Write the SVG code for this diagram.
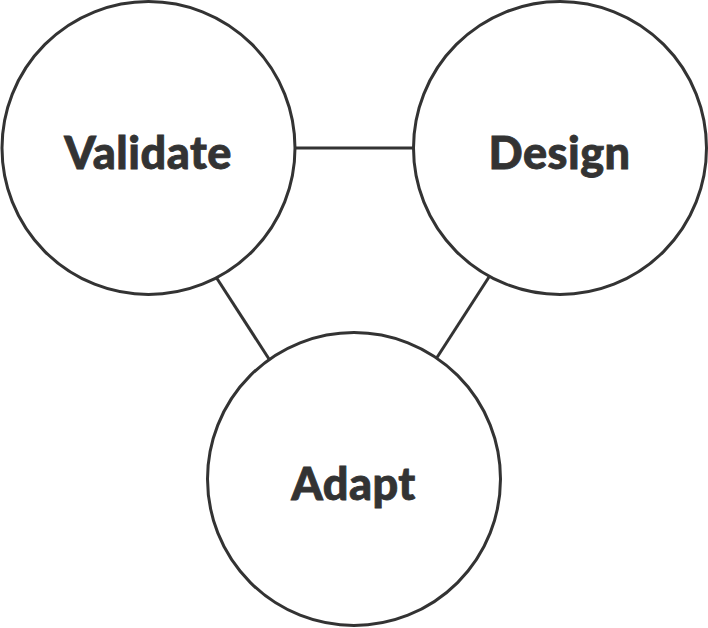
<svg xmlns="http://www.w3.org/2000/svg" width="708" height="628" viewBox="0 0 708 628">
<style>
.n{fill:#fff;stroke:#333;stroke-width:3}
.c{stroke:#333;stroke-width:3;fill:none}
.t{font-family:Lato,"Liberation Sans",sans-serif;font-weight:900;font-size:45px;fill:#333;stroke:#333;stroke-width:0.8;letter-spacing:0.5px;text-anchor:middle}
</style>
<rect width="708" height="628" fill="#fff"/>
<g id="connectors">
<line class="c" x1="295" y1="148" x2="413" y2="148"/>
<line class="c" x1="216" y1="277" x2="269" y2="359"/>
<line class="c" x1="489" y1="277" x2="436" y2="359"/>
</g>
<g id="validate"><circle class="n" cx="148.5" cy="148" r="146.5"/><text class="t" x="148" y="169">Validate</text></g>
<g id="design"><circle class="n" cx="560" cy="148" r="146.5"/><text class="t" x="559.5" y="169">Design</text></g>
<g id="adapt"><circle class="n" cx="354" cy="479" r="146.5"/><text class="t" x="353.5" y="500">Adapt</text></g>
</svg>
